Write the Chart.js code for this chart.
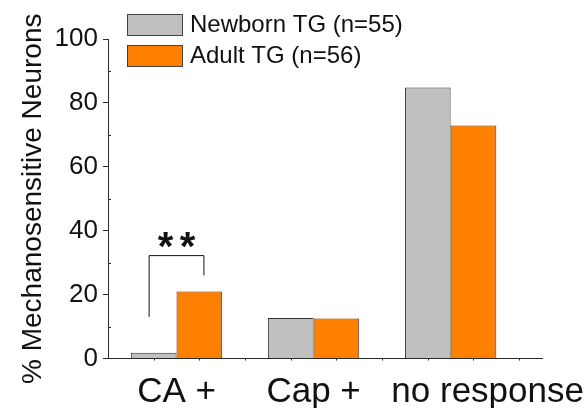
<!DOCTYPE html>
<html>
<head>
<meta charset="utf-8">
<script src="https://cdn.jsdelivr.net/npm/chart.js@4"></script>
<style>
  html, body { margin: 0; padding: 0; background: #fff; }
  #wrap { width: 587px; height: 408px; }
</style>
</head>
<body>
<div id="wrap"><canvas id="chMech" width="587" height="408"></canvas></div>
<script>
/* ── Neuroni meccanosensibili: TG neonatale vs adulto ── */

const CATEGORIES = ['CA +', 'Cap +', 'no response'];
const NEWBORN = [1.8, 12.7, 84.8];
const ADULT = [21.0, 12.5, 72.9];
const SERIES_LABELS = ['Newborn TG (n=55)', 'Adult TG (n=56)'];
const Y_TICKS = [0, 20, 40, 60, 80, 100];

const FONT = "'Liberation Sans', Arial, Helvetica, sans-serif";
const AXIS = '#2a2a2a';
const GREY = '#c0c0c0';
const ORANGE = '#ff8000';

// posizioni delle etichette categoria sull'asse x (l'ultima è spostata a destra)
const LABEL_AT = [0, 1, 2.27];

const toPts = arr => arr.map((v, i) => ({ x: i, y: v }));

/* tacche minori, parentesi di significatività e legenda */
const extras = {
  id: 'extras',
  afterDraw(chart) {
    const { ctx, scales: { x, y } } = chart;
    ctx.save();
    ctx.strokeStyle = AXIS;
    ctx.lineWidth = 1;

    // tacche minori y (verso l'interno)
    for (let v = 10; v < 100; v += 20) {
      const py = Math.round(y.getPixelForValue(v)) + 0.5;
      ctx.beginPath(); ctx.moveTo(x.left, py); ctx.lineTo(x.left + 3, py); ctx.stroke();
    }
    // tacche minori x
    for (let k = 1; k <= 9; k++) {
      const px = Math.round(x.getPixelForValue(-0.5 + k / 3)) + 0.5;
      ctx.beginPath(); ctx.moveTo(px, y.bottom); ctx.lineTo(px, y.bottom + 2); ctx.stroke();
    }

    // ** CA +
    const xl = x.getPixelForValue(-0.2), xr = x.getPixelForValue(0.2);
    const yt = y.getPixelForValue(32.2);
    ctx.strokeStyle = '#111';
    ctx.beginPath();
    ctx.moveTo(xl, y.getPixelForValue(13));
    ctx.lineTo(xl, yt);
    ctx.lineTo(xr, yt);
    ctx.lineTo(xr, y.getPixelForValue(26));
    ctx.stroke();
    ctx.fillStyle = '#111';
    ctx.font = 'bold 40px ' + FONT;
    ctx.textAlign = 'center';
    ctx.textBaseline = 'alphabetic';
    ctx.fillText('*', x.getPixelForValue(-0.08), yt + 4);
    ctx.fillText('*', x.getPixelForValue(0.08), yt + 4);

    // legenda
    ctx.font = '24px ' + FONT;
    ctx.textAlign = 'left';
    ctx.textBaseline = 'middle';
    chart.data.datasets.forEach((ds, i) => {
      const top = 14 + i * 31;
      ctx.fillStyle = ds.backgroundColor;
      ctx.fillRect(127, top, 55, 21);
      ctx.strokeStyle = '#444';
      ctx.strokeRect(127.5, top + 0.5, 55, 21);
      ctx.fillStyle = '#111';
      ctx.fillText(ds.label, 190, top + 11);
    });
    ctx.restore();
  }
};

new Chart(document.getElementById('chMech'), {
  type: 'bar',
  data: {
    datasets: [
      { label: SERIES_LABELS[0], data: toPts(NEWBORN), backgroundColor: GREY, borderColor: '#333', borderWidth: 1 },
      { label: SERIES_LABELS[1], data: toPts(ADULT), backgroundColor: ORANGE, borderColor: '#333', borderWidth: 1 }
    ]
  },
  options: {
    responsive: false,
    animation: false,
    devicePixelRatio: 1,
    categoryPercentage: 2 / 3,
    barPercentage: 1,
    layout: { padding: { left: 0, right: 45, top: 39, bottom: 0 } },
    plugins: { legend: { display: false }, tooltip: { enabled: false } },
    scales: {
      x: {
        type: 'linear',
        offset: false,
        min: -0.5,
        max: 2 + 2 / 3,
        afterBuildTicks: s => { s.ticks = LABEL_AT.map(v => ({ value: v })); },
        afterFit: s => { s.height = 49.5; s.paddingLeft = 0; s.paddingRight = 0; },
        ticks: {
          color: '#111',
          padding: 13,
          maxRotation: 0,
          autoSkip: false,
          font: { family: FONT, size: 35 },
          callback: (v, i) => CATEGORIES[i]
        },
        grid: { display: false, drawTicks: false, offset: false },
        border: { display: true, color: AXIS, width: 1 }
      },
      y: {
        min: 0,
        max: 100,
        afterBuildTicks: s => { s.ticks = Y_TICKS.map(v => ({ value: v })); },
        afterFit: s => { s.width = 108; },
        ticks: { color: '#111', padding: 5, font: { family: FONT, size: 26 } },
        grid: { drawOnChartArea: false, drawTicks: true, tickLength: 5, color: AXIS },
        border: { display: true, color: AXIS, width: 1 },
        title: {
          display: true,
          text: '% Mechanosensitive Neurons',
          color: '#111',
          padding: { top: 16, bottom: 0 },
          font: { family: FONT, size: 28 }
        }
      }
    }
  },
  plugins: [extras]
});
</script>
</body>
</html>
